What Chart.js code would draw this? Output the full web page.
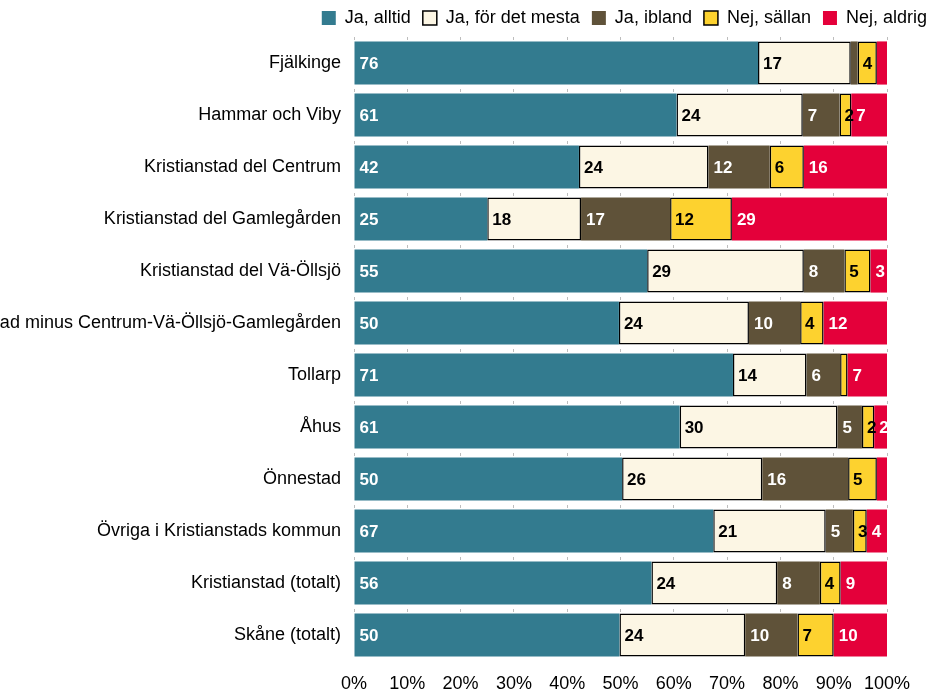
<!DOCTYPE html>
<html lang="sv">
<head>
    <meta charset="UTF-8">
    <title>Andel svar per område</title>
    <script src="https://cdn.jsdelivr.net/npm/chart.js"></script>
    <style>
        body { margin: 0; background: #fff; }
        .wrap { width: 928px; height: 690px; position: relative; }
    </style>
</head>
<body>
    <div class="wrap">
        <canvas id="svarChart"></canvas>
    </div>

    <script>
        // Områden (uppifrån och ned)
        const omraden = [
            'Fjälkinge',
            'Hammar och Viby',
            'Kristianstad del Centrum',
            'Kristianstad del Gamlegården',
            'Kristianstad del Vä-Öllsjö',
            'Kristianstad minus Centrum-Vä-Öllsjö-Gamlegården',
            'Tollarp',
            'Åhus',
            'Önnestad',
            'Övriga i Kristianstads kommun',
            'Kristianstad (totalt)',
            'Skåne (totalt)'
        ];

        // Andelar i procent
        const jaAlltid      = [75.8, 60.5, 42.2, 25.0, 55.0, 49.7, 71.1, 61.1, 50.3, 67.4, 55.8, 49.8];
        const jaMesta       = [17.4, 23.7, 24.3, 17.6, 29.4, 24.4, 13.8, 29.6, 26.3, 21.1, 23.6, 23.6];
        const jaIbland      = [1.3, 6.9, 11.5, 16.7, 7.6, 9.6, 6.3, 4.6, 16.1, 5.1, 8.0, 9.8];
        const nejSallan     = [3.6, 2.2, 6.4, 11.6, 4.9, 4.4, 1.4, 2.3, 5.4, 2.6, 3.9, 6.8];
        const nejAldrig     = [1.9, 6.7, 15.6, 29.1, 3.1, 11.9, 7.4, 2.4, 1.9, 3.8, 8.7, 10.0];

        const xTicks = [0, 10, 20, 30, 40, 50, 60, 70, 80, 90, 100];

        const serier = [
            { label: 'Ja, alltid',         data: jaAlltid,  bg: '#337b8f', border: null,   text: '#fff' },
            { label: 'Ja, för det mesta',  data: jaMesta,   bg: '#fcf6e4', border: '#000', text: '#000' },
            { label: 'Ja, ibland',         data: jaIbland,  bg: '#5f5239', border: null,   text: '#fff' },
            { label: 'Nej, sällan',        data: nejSallan, bg: '#fdd22f', border: '#000', text: '#000' },
            { label: 'Nej, aldrig',        data: nejAldrig, bg: '#e4003a', border: null,   text: '#fff' }
        ];

        const font = 'Liberation Sans, Arial, sans-serif';

        // skriver värdet i början av varje stapelsegment
        const segmentLabels = {
            id: 'segmentLabels',
            afterDatasetsDraw(chart) {
                const ctx = chart.ctx;
                ctx.save();
                ctx.font = 'bold 17px ' + font;
                ctx.textAlign = 'left';
                ctx.textBaseline = 'middle';
                chart.data.datasets.forEach((ds, i) => {
                    const meta = chart.getDatasetMeta(i);
                    meta.data.forEach((bar, j) => {
                        const v = ds.data[j];
                        if (v < 2) return;
                        ctx.fillStyle = ds.textColor;
                        ctx.fillText(Math.round(v), bar.base + 5, bar.y + 1);
                    });
                });
                ctx.restore();
            }
        };

        new Chart(document.getElementById('svarChart'), {
            type: 'bar',
            data: {
                labels: omraden,
                datasets: serier.map(s => ({
                    label: s.label,
                    data: s.data,
                    backgroundColor: s.bg,
                    borderColor: s.border || s.bg,
                    borderWidth: s.border ? 1.5 : 0,
                    borderSkipped: false,
                    textColor: s.text,
                    barPercentage: 0.83,
                    categoryPercentage: 1
                }))
            },
            options: {
                indexAxis: 'y',
                responsive: true,
                maintainAspectRatio: false,
                animation: false,
                // negativ padding så att legenden går ut mot kanten
                layout: { padding: { top: -3, bottom: 0, left: 0, right: -11 } },
                scales: {
                    x: {
                        stacked: true,
                        min: 0,
                        max: 100,
                        afterBuildTicks: scale => {
                            scale.ticks = xTicks.map(v => ({ value: v }));
                        },
                        afterFit: scale => {
                            scale.paddingRight = 41;
                            scale.height = 29;
                        },
                        ticks: {
                            callback: v => v + '%',
                            color: '#000',
                            font: { family: font, size: 18 },
                            padding: 12,
                            maxRotation: 0
                        },
                        grid: {
                            color: '#bdbdbd',
                            drawTicks: false
                        },
                        // streckade gridlinjer -> bara korta märken i mellanrummen
                        border: { display: false, dash: [3, 49], dashOffset: 0 }
                    },
                    y: {
                        stacked: true,
                        afterFit: scale => {
                            scale.width = 354;
                        },
                        ticks: {
                            color: '#000',
                            font: { family: font, size: 18 },
                            padding: 5
                        },
                        grid: { display: false },
                        border: { display: false }
                    }
                },
                plugins: {
                    legend: {
                        position: 'top',
                        align: 'end',
                        labels: {
                            boxWidth: 14,
                            boxHeight: 14,
                            color: '#000',
                            font: { family: font, size: 18 },
                            padding: 12
                        }
                    },
                    tooltip: { enabled: false }
                }
            },
            plugins: [segmentLabels]
        });
    </script>
</body>
</html>
